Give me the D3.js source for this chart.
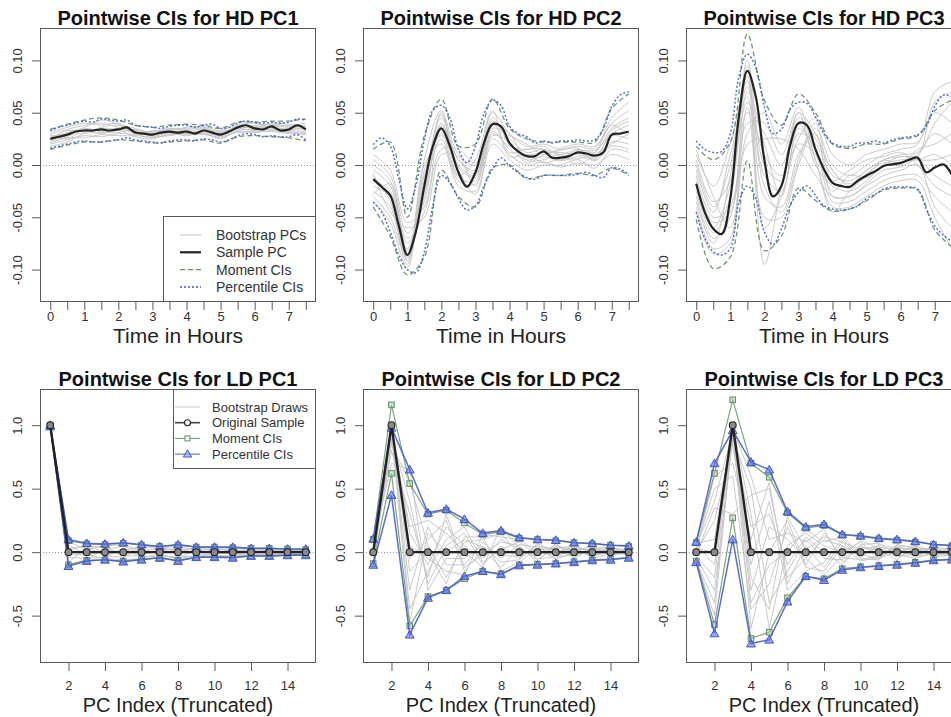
<!DOCTYPE html>
<html>
<head>
<meta charset="utf-8">
<script src="https://cdn.jsdelivr.net/npm/d3@7"></script>
<style>
  body { margin: 0; background: #fff; }
  svg { font-family: "Liberation Sans", Arial, sans-serif; display: block; }
  .tick text { fill: #333; }
</style>
</head>
<body>
<div id="viz"></div>
<script>
// ---- time grids / index grid ----
var hdTime = [0,0.25,0.5,0.75,1,1.25,1.5,1.75,2,2.25,2.5,2.75,3,3.25,3.5,3.75,4,4.25,4.5,4.75,5,5.25,5.5,5.75,6,6.25,6.5,6.75,7,7.25,7.5];
var hdTimeCoarse = [0,0.5,1,1.5,2,2.5,3,3.5,4,4.5,5,5.5,6,6.5,7,7.5];
var ldIndex = [1,2,3,4,5,6,7,8,9,10,11,12,13,14,15];

var hdTicks = [0,0.5,1,1.5,2,2.5,3,3.5,4,4.5,5,5.5,6,6.5,7,7.5];
var hdYTicks = [-0.10,-0.05,0,0.05,0.10];
var ldTicks = [2,4,6,8,10,12,14];
var ldYTicks = [-0.5,0,0.5,1.0];

// ---- HD PC1 ----
var hd1Sample = [0.025,0.027,0.029,0.032,0.033,0.033,0.034,0.033,0.034,0.036,0.031,0.030,0.029,0.031,0.032,0.031,0.032,0.030,0.033,0.031,0.029,0.032,0.036,0.038,0.035,0.034,0.037,0.033,0.034,0.038,0.034];
var hd1PctUp = [0.033,0.036,0.038,0.040,0.042,0.041,0.044,0.043,0.042,0.043,0.038,0.037,0.036,0.035,0.037,0.038,0.038,0.036,0.038,0.039,0.035,0.036,0.040,0.042,0.041,0.040,0.041,0.040,0.041,0.044,0.043];
var hd1PctLo = [0.016,0.018,0.020,0.022,0.023,0.022,0.022,0.023,0.024,0.026,0.024,0.023,0.022,0.021,0.023,0.024,0.024,0.023,0.025,0.024,0.022,0.024,0.028,0.030,0.029,0.027,0.028,0.027,0.027,0.029,0.024];
var hd1MomUp = [0.034,0.039,0.043,0.045,0.043,0.038,0.036,0.038,0.039,0.038,0.035,0.041,0.041,0.042,0.042,0.044];
var hd1MomLo = [0.015,0.019,0.022,0.022,0.024,0.023,0.021,0.022,0.023,0.024,0.021,0.027,0.028,0.027,0.026,0.023];
var hd1Boot = [
  [0.030,0.034,0.038,0.040,0.036,0.033,0.032,0.034,0.035,0.036,0.031,0.037,0.038,0.039,0.038,0.040],
  [0.020,0.024,0.028,0.027,0.030,0.029,0.026,0.029,0.030,0.030,0.026,0.032,0.031,0.033,0.031,0.029],
  [0.027,0.031,0.036,0.043,0.039,0.035,0.030,0.031,0.034,0.035,0.030,0.038,0.040,0.036,0.035,0.036],
  [0.018,0.022,0.030,0.031,0.033,0.027,0.025,0.030,0.028,0.031,0.025,0.033,0.034,0.034,0.032,0.030],
  [0.028,0.029,0.031,0.036,0.038,0.031,0.031,0.035,0.033,0.034,0.032,0.035,0.033,0.038,0.036,0.038],
  [0.023,0.027,0.035,0.032,0.031,0.034,0.028,0.028,0.031,0.032,0.028,0.034,0.037,0.035,0.033,0.032],
  [0.032,0.036,0.040,0.038,0.040,0.030,0.033,0.033,0.036,0.037,0.033,0.039,0.036,0.040,0.039,0.037],
  [0.021,0.026,0.026,0.029,0.028,0.028,0.027,0.031,0.029,0.029,0.027,0.031,0.032,0.032,0.030,0.031],
  [0.025,0.033,0.032,0.035,0.034,0.032,0.030,0.033,0.030,0.033,0.030,0.036,0.035,0.036,0.034,0.035],
  [0.029,0.025,0.034,0.030,0.035,0.030,0.029,0.032,0.032,0.030,0.029,0.035,0.036,0.037,0.037,0.033]
];

// ---- HD PC2 ----
var hd2Sample = [-0.0135,-0.021,-0.029,-0.058,-0.086,-0.064,-0.020,0.018,0.035,0.018,-0.007,-0.021,-0.007,0.021,0.039,0.037,0.021,0.013,0.0085,0.0085,0.013,0.007,0.007,0.0085,0.012,0.011,0.009,0.012,0.029,0.030,0.032];
var hd2PctUp = [0.0195,0.026,0.018,-0.0135,-0.042,-0.020,0.024,0.0525,0.057,0.045,0.015,0.002,0.018,0.049,0.062,0.057,0.037,0.030,0.027,0.021,0.023,0.021,0.023,0.023,0.024,0.023,0.024,0.034,0.056,0.067,0.070];
var hd2PctLo = [-0.0355,-0.045,-0.064,-0.086,-0.100,-0.103,-0.083,-0.039,-0.010,-0.017,-0.032,-0.043,-0.039,-0.020,-0.004,0.007,-0.001,-0.007,-0.012,-0.0135,-0.010,-0.0097,-0.010,-0.010,-0.0088,-0.007,-0.010,-0.012,-0.0025,-0.004,-0.009];
var hd2MomUp = [0.015,0.022,-0.050,0.028,0.063,0.018,0.020,0.063,0.035,0.025,0.022,0.022,0.022,0.022,0.054,0.068];
var hd2MomLo = [-0.040,-0.068,-0.105,-0.088,-0.005,-0.030,-0.040,-0.003,0.000,-0.013,-0.010,-0.010,-0.008,-0.010,-0.003,-0.010];
var hd2Boot = [
  [-0.005,-0.020,-0.075,-0.030,0.040,0.000,-0.010,0.042,0.025,0.012,0.015,0.010,0.015,0.012,0.035,0.045],
  [-0.025,-0.040,-0.095,-0.010,0.030,-0.012,-0.015,0.032,0.015,0.005,0.008,0.004,0.008,0.005,0.022,0.020],
  [0.005,-0.010,-0.065,-0.035,0.050,0.010,0.000,0.050,0.030,0.018,0.020,0.015,0.018,0.016,0.045,0.060],
  [-0.030,-0.050,-0.090,0.000,0.020,-0.020,-0.025,0.025,0.010,0.000,0.003,-0.002,0.002,0.000,0.010,0.005],
  [-0.015,-0.025,-0.080,-0.015,0.045,0.005,-0.005,0.045,0.020,0.010,0.012,0.012,0.010,0.008,0.030,0.038],
  [-0.010,-0.035,-0.088,-0.025,0.025,-0.015,-0.018,0.030,0.018,0.015,0.018,0.008,0.014,0.014,0.028,0.025],
  [0.010,-0.005,-0.055,-0.040,0.038,0.005,-0.008,0.035,0.028,0.020,0.010,0.016,0.020,0.018,0.040,0.052],
  [-0.035,-0.055,-0.098,-0.005,0.028,-0.005,-0.028,0.020,0.005,-0.005,0.000,0.000,0.005,-0.003,0.015,0.012],
  [-0.020,-0.030,-0.070,-0.045,0.015,0.015,0.002,0.038,0.030,0.005,0.005,0.010,0.000,0.010,0.020,0.030],
  [0.000,-0.015,-0.082,-0.020,0.048,-0.002,-0.012,0.040,0.012,0.015,0.015,0.005,0.012,0.006,0.033,0.042],
  [-0.008,-0.045,-0.060,-0.050,0.010,0.008,-0.020,0.028,0.022,0.002,0.010,0.014,0.016,0.004,0.018,0.015],
  [-0.028,-0.018,-0.092,0.005,0.052,-0.010,0.005,0.052,0.008,0.010,0.002,0.006,0.006,0.012,0.038,0.028]
];

// ---- HD PC3 ----
var hd3Sample = [-0.018,-0.045,-0.061,-0.066,-0.032,0.046,0.090,0.065,0.005,-0.030,-0.020,0.018,0.040,0.038,0.015,-0.004,-0.017,-0.020,-0.021,-0.015,-0.010,-0.006,-0.001,0.0006,0.002,0.005,0.007,-0.007,-0.0025,0.0006,-0.009];
var hd3PctUp = [0.023,0.015,0.012,0.013,0.030,0.084,0.106,0.093,0.056,0.030,0.034,0.053,0.060,0.059,0.046,0.030,0.021,0.018,0.018,0.021,0.021,0.023,0.021,0.024,0.026,0.027,0.029,0.037,0.056,0.067,0.065];
var hd3PctLo = [-0.045,-0.070,-0.083,-0.086,-0.080,-0.036,-0.020,-0.032,-0.064,-0.076,-0.061,-0.039,-0.026,-0.020,-0.029,-0.039,-0.042,-0.043,-0.042,-0.039,-0.032,-0.028,-0.023,-0.021,-0.021,-0.021,-0.023,-0.042,-0.058,-0.067,-0.073];
var hd3MomUp = [0.018,0.005,0.022,0.125,0.062,0.038,0.068,0.050,0.020,0.016,0.020,0.020,0.025,0.028,0.052,0.062];
var hd3MomLo = [-0.052,-0.099,-0.088,0.004,-0.082,-0.068,-0.022,-0.034,-0.044,-0.042,-0.034,-0.024,-0.022,-0.024,-0.062,-0.078];
var hd3Boot = [
  [-0.030,-0.070,-0.050,0.070,0.020,-0.030,0.030,0.020,-0.010,-0.015,-0.005,0.005,0.008,0.010,0.040,0.060],
  [0.000,-0.040,0.000,0.095,-0.030,-0.040,0.010,0.030,-0.030,-0.030,-0.020,-0.010,-0.005,0.000,-0.040,-0.060],
  [-0.040,-0.080,-0.070,0.040,0.040,0.010,0.050,0.000,-0.020,-0.025,-0.015,0.000,0.005,0.005,0.010,0.000],
  [0.010,-0.020,0.020,0.080,-0.050,-0.050,0.000,0.035,0.000,-0.010,0.000,0.010,0.015,0.020,0.070,0.080],
  [-0.020,-0.060,-0.020,0.060,0.010,-0.010,0.020,0.010,-0.035,-0.035,-0.025,-0.015,-0.010,-0.010,-0.030,-0.045],
  [-0.010,-0.050,-0.040,0.050,0.030,0.000,0.045,0.025,-0.005,-0.020,-0.008,0.002,0.000,0.015,0.020,0.030],
  [-0.035,-0.075,-0.010,0.075,-0.020,-0.045,0.005,0.040,-0.015,-0.005,0.005,0.008,0.012,0.000,-0.020,-0.030],
  [0.015,-0.030,-0.060,0.030,0.050,0.020,0.055,0.005,-0.040,-0.040,-0.030,-0.020,-0.015,-0.015,-0.050,-0.080],
  [-0.025,-0.065,-0.030,0.085,-0.010,-0.025,0.035,0.015,-0.025,-0.010,-0.012,0.000,0.008,0.005,0.005,0.010],
  [-0.005,-0.045,0.010,0.065,-0.060,-0.030,0.025,0.045,0.010,0.000,0.010,0.015,0.020,0.022,0.050,0.040],
  [-0.045,-0.085,-0.075,0.020,0.025,0.025,0.015,-0.010,-0.030,-0.030,-0.018,-0.005,-0.002,0.005,-0.010,-0.020],
  [0.005,-0.035,-0.015,0.100,0.000,-0.015,0.050,0.030,-0.005,-0.018,-0.005,0.005,0.010,0.012,0.030,0.020],
  [-0.015,-0.055,-0.045,0.055,-0.095,-0.020,0.040,0.005,-0.045,-0.025,-0.010,0.004,0.002,0.008,0.060,0.070]
];

// ---- LD PC1 ----
var ld1Sample = [1,0,0,0,0,0,0,0,0,0,0,0,0,0,0];
var ld1PctUp = [1.0,0.10,0.07,0.065,0.075,0.06,0.045,0.06,0.04,0.04,0.04,0.03,0.03,0.025,0.025];
var ld1PctLo = [0.99,-0.11,-0.07,-0.06,-0.075,-0.06,-0.045,-0.07,-0.04,-0.04,-0.045,-0.03,-0.03,-0.025,-0.025];
var ld1MomUp = [1.0,0.09,0.065,0.06,0.07,0.055,0.045,0.055,0.04,0.04,0.035,0.03,0.03,0.025,0.02];
var ld1MomLo = [0.99,-0.10,-0.065,-0.06,-0.07,-0.055,-0.045,-0.065,-0.04,-0.035,-0.04,-0.03,-0.03,-0.025,-0.02];
var ld1Boot = [
  [0.995,0.06,-0.03,0.02,0.05,-0.02,0.01,0.03,-0.01,0.02,-0.02,0.01,0.00,0.01,-0.01],
  [0.990,-0.08,0.04,-0.03,-0.04,0.03,-0.02,-0.05,0.02,-0.01,0.02,-0.01,0.01,-0.01,0.01],
  [0.998,0.03,0.05,0.04,-0.02,0.04,0.03,0.02,0.03,0.02,0.03,0.02,0.01,0.015,0.01],
  [0.992,-0.04,-0.05,-0.04,0.03,-0.04,-0.03,-0.04,-0.03,-0.03,-0.03,-0.02,-0.02,-0.01,-0.015],
  [0.996,0.08,0.02,0.05,0.06,0.01,0.03,0.05,0.01,0.03,0.01,0.02,0.02,0.02,0.01],
  [0.994,-0.02,-0.02,-0.05,-0.06,-0.05,-0.01,-0.06,-0.02,-0.02,-0.04,-0.01,-0.025,-0.02,-0.02],
  [0.997,0.01,0.06,-0.01,0.01,0.05,0.04,0.00,0.04,0.035,0.00,0.025,0.015,0.00,0.02],
  [0.991,-0.10,-0.06,0.03,-0.03,-0.03,-0.04,-0.03,-0.04,-0.01,-0.01,-0.03,-0.01,-0.02,-0.005]
];

// ---- LD PC2 ----
var ld2Sample = [0,1,0,0,0,0,0,0,0,0,0,0,0,0,0];
var ld2PctUp = [0.105,0.98,0.65,0.31,0.34,0.26,0.15,0.17,0.115,0.10,0.095,0.075,0.07,0.055,0.05];
var ld2PctLo = [-0.10,0.45,-0.65,-0.36,-0.30,-0.19,-0.15,-0.175,-0.105,-0.10,-0.09,-0.08,-0.065,-0.06,-0.045];
var ld2MomUp = [0.10,1.16,0.54,0.30,0.33,0.23,0.14,0.16,0.11,0.10,0.09,0.075,0.065,0.055,0.045];
var ld2MomLo = [-0.09,0.62,-0.58,-0.35,-0.30,-0.21,-0.15,-0.17,-0.10,-0.095,-0.09,-0.075,-0.06,-0.055,-0.04];
var ld2Boot = [
  [0.05,0.98,0.15,-0.10,0.20,0.05,-0.05,0.10,0.02,-0.03,0.04,0.01,-0.02,0.01,0.00],
  [-0.04,0.95,-0.30,0.20,-0.10,-0.10,0.08,-0.05,0.06,0.04,-0.03,0.03,0.02,-0.02,0.01],
  [0.08,0.90,0.40,-0.25,0.05,0.15,-0.10,0.05,-0.05,0.05,0.02,-0.04,0.03,0.02,-0.01],
  [-0.07,0.99,-0.05,0.10,0.25,-0.15,0.02,-0.12,0.04,-0.06,0.05,0.02,-0.03,0.00,0.02],
  [0.02,0.85,0.55,0.05,-0.20,0.08,0.10,0.15,-0.02,0.02,-0.05,0.05,0.00,0.03,0.01],
  [0.00,0.97,-0.45,-0.15,0.10,0.20,-0.08,0.02,0.08,-0.02,0.06,-0.03,0.04,-0.02,-0.01],
  [0.06,0.70,0.65,-0.30,-0.05,-0.05,0.05,-0.08,-0.06,0.07,0.00,0.04,-0.04,0.03,0.02],
  [-0.05,0.93,0.20,0.25,0.15,0.00,-0.12,0.20,0.03,-0.05,-0.04,-0.02,0.02,0.01,-0.02],
  [0.03,0.99,-0.15,0.00,-0.25,0.12,0.12,-0.15,-0.08,0.03,0.03,0.05,-0.05,-0.01,0.00],
  [-0.02,0.80,0.30,-0.20,0.30,-0.12,-0.02,0.08,0.05,-0.08,0.07,-0.05,0.03,0.04,-0.03],
  [0.07,0.96,-0.55,0.15,0.00,0.10,0.04,-0.02,-0.04,0.06,-0.06,0.00,0.05,-0.03,0.03],
  [-0.08,0.88,0.05,-0.05,-0.15,-0.18,0.14,0.12,0.10,0.00,-0.02,0.06,-0.01,0.02,-0.01]
];

// ---- LD PC3 ----
var ld3Sample = [0,0,1,0,0,0,0,0,0,0,0,0,0,0,0];
var ld3PctUp = [0.08,0.70,0.96,0.71,0.65,0.32,0.20,0.22,0.14,0.13,0.11,0.10,0.085,0.06,0.055];
var ld3PctLo = [-0.08,-0.64,0.10,-0.72,-0.69,-0.39,-0.19,-0.22,-0.14,-0.12,-0.11,-0.10,-0.085,-0.065,-0.06];
var ld3MomUp = [0.075,0.62,1.20,0.70,0.59,0.31,0.19,0.21,0.135,0.125,0.105,0.095,0.08,0.06,0.05];
var ld3MomLo = [-0.07,-0.57,0.27,-0.68,-0.63,-0.36,-0.19,-0.21,-0.13,-0.115,-0.105,-0.095,-0.08,-0.06,-0.055];
var ld3Boot = [
  [0.05,0.40,0.95,-0.30,0.20,0.10,-0.05,0.10,0.05,-0.03,0.04,0.02,-0.02,0.01,0.02],
  [-0.04,-0.30,0.90,0.50,-0.40,-0.15,0.10,-0.05,-0.06,0.05,-0.02,0.03,0.03,-0.02,0.00],
  [0.02,0.60,0.70,0.10,0.55,-0.25,0.05,-0.12,0.08,0.02,0.05,-0.04,0.02,0.03,-0.02],
  [-0.06,-0.50,0.98,-0.60,0.00,0.25,-0.10,0.15,-0.04,-0.06,-0.03,0.05,-0.03,-0.02,0.01],
  [0.07,0.10,0.99,0.30,-0.60,0.05,0.15,0.05,0.00,0.08,-0.05,0.00,0.04,0.02,0.03],
  [0.00,0.25,0.85,-0.10,0.40,-0.30,-0.15,-0.08,0.10,-0.04,0.06,0.03,-0.04,0.04,-0.03],
  [-0.03,-0.20,0.97,0.60,0.10,0.15,0.08,0.18,-0.08,0.04,0.02,-0.06,0.05,-0.01,0.02],
  [0.04,0.50,0.60,-0.45,-0.25,0.20,-0.12,-0.15,0.05,-0.07,-0.04,0.04,0.01,0.03,-0.02],
  [-0.07,-0.40,0.92,0.20,0.30,-0.10,0.12,0.00,-0.10,0.06,0.07,-0.02,-0.05,0.00,0.01],
  [0.03,0.00,0.99,-0.20,-0.45,0.28,0.02,0.12,0.08,-0.05,-0.06,0.06,0.03,-0.03,-0.01],
  [-0.02,0.35,0.30,0.45,0.50,-0.20,-0.05,-0.18,-0.03,0.09,0.03,-0.03,-0.02,0.04,0.02],
  [0.06,-0.10,0.96,-0.40,-0.10,0.00,0.18,0.08,0.12,-0.02,-0.05,0.05,0.04,-0.04,-0.02]
];

// ---- layout ----
var width = 951, height = 717;
var colLeft = [40, 363, 686];
var pw = 276;
var colors = {
  boot: "#c3c3c3", sample: "#222", mom: "#5f8f5f", pct: "#3f55c8",
  box: "#5a5a5a", text: "#222"
};

var svg = d3.select("#viz").append("svg")
  .attr("width", width).attr("height", height);

function zip(xs, ys) {
  return xs.map(function(x, i) { return [x, ys[i]]; });
}

function drawPanel(p, idx) {
  var g = svg.append("g").attr("transform", "translate(" + p.left + "," + p.top + ")");
  var x = d3.scaleLinear().domain(p.xDomain).range([0, pw]);
  var y = d3.scaleLinear().domain(p.yDomain).range([p.h, 0]);

  g.append("clipPath").attr("id", "clip" + idx)
    .append("rect").attr("width", pw).attr("height", p.h);
  var plot = g.append("g").attr("clip-path", "url(#clip" + idx + ")");

  var line = d3.line()
    .x(function(d) { return x(d[0]); })
    .y(function(d) { return y(d[1]); })
    .curve(p.smooth ? d3.curveCatmullRom : d3.curveLinear);

  // bootstrap draws
  plot.selectAll(".boot").data(p.boot).enter().append("path")
    .attr("d", function(b) { return line(zip(p.bootX, b)); })
    .attr("fill", "none").attr("stroke", colors.boot).attr("stroke-width", 1)
    .attr("opacity", 0.9);

  // zero reference
  plot.append("line")
    .attr("x1", 0).attr("x2", pw)
    .attr("y1", Math.round(y(0)) + 0.5).attr("y2", Math.round(y(0)) + 0.5)
    .attr("stroke", "#999").attr("stroke-width", 1).attr("stroke-dasharray", "1,2");

  // moment CIs
  [p.momUp, p.momLo].forEach(function(s) {
    plot.append("path").attr("d", line(zip(p.momX, s)))
      .attr("fill", "none").attr("stroke", colors.mom)
      .attr("stroke-width", p.smooth ? 1.3 : 1.2)
      .attr("stroke-dasharray", p.smooth ? "5,3" : null)
      .attr("opacity", p.smooth ? 0.9 : 0.8);
    if (!p.smooth) {
      plot.selectAll(null).data(zip(p.momX, s)).enter().append("rect")
        .attr("x", function(d) { return x(d[0]) - 2.8; })
        .attr("y", function(d) { return y(d[1]) - 2.8; })
        .attr("width", 5.6).attr("height", 5.6)
        .attr("fill", "rgba(170,200,170,0.5)").attr("stroke", colors.mom).attr("stroke-width", 1);
    }
  });

  // percentile CIs
  [p.pctUp, p.pctLo].forEach(function(s) {
    plot.append("path").attr("d", line(zip(p.xs, s)))
      .attr("fill", "none").attr("stroke", colors.pct)
      .attr("stroke-width", 1.5)
      .attr("stroke-dasharray", p.smooth ? "2,2" : null)
      .attr("opacity", 0.85);
    if (!p.smooth) {
      plot.selectAll(null).data(zip(p.xs, s)).enter().append("path")
        .attr("transform", function(d) { return "translate(" + x(d[0]) + "," + (y(d[1]) + 0.8) + ")"; })
        .attr("d", d3.symbol().type(d3.symbolTriangle).size(34))
        .attr("fill", "rgba(95,115,225,0.6)").attr("stroke", colors.pct).attr("stroke-width", 1);
    }
  });

  // sample
  plot.append("path").attr("d", line(zip(p.xs, p.sample)))
    .attr("fill", "none").attr("stroke", colors.sample)
    .attr("stroke-width", p.smooth ? 2.2 : 2.4);
  if (!p.smooth) {
    plot.selectAll(null).data(zip(p.xs, p.sample)).enter().append("circle")
      .attr("cx", function(d) { return x(d[0]); })
      .attr("cy", function(d) { return y(d[1]); })
      .attr("r", 3.4)
      .attr("fill", "#8a8a8a").attr("stroke", "#222").attr("stroke-width", 1.1);
  }

  // box
  g.append("rect").attr("x", 0.5).attr("y", 0.5).attr("width", pw - 1).attr("height", p.h - 1)
    .attr("fill", "none").attr("stroke", colors.box).attr("stroke-width", 1);

  // x axis
  var xAxis = g.append("g").attr("transform", "translate(0," + p.h + ")")
    .call(d3.axisBottom(x).tickValues(p.xTicks).tickSize(8).tickPadding(p.xPad)
      .tickFormat(function(d) { return Number.isInteger(d) ? d : ""; }));
  xAxis.select(".domain").remove();
  xAxis.selectAll(".tick line").attr("stroke", colors.box);
  xAxis.selectAll(".tick text").attr("font-size", 13).attr("dy", "0.72em");

  // y axis
  var yAxis = g.append("g")
    .call(d3.axisLeft(y).tickValues(p.yTicks).tickSize(8)
      .tickFormat(function(d) { return d.toFixed(p.yDigits); }));
  yAxis.select(".domain").remove();
  yAxis.selectAll(".tick line").attr("stroke", colors.box);
  yAxis.selectAll(".tick text")
    .attr("x", 0).attr("dy", null).attr("text-anchor", "middle").attr("font-size", 13)
    .attr("transform", "translate(-18.5,0) rotate(-90)");

  // title + x label
  g.append("text").attr("x", pw / 2).attr("y", p.titleY)
    .attr("text-anchor", "middle").attr("font-size", 20).attr("font-weight", "bold")
    .attr("fill", "#111").text(p.title);
  g.append("text").attr("x", pw / 2).attr("y", p.labelY)
    .attr("text-anchor", "middle").attr("font-size", p.labelSize).attr("fill", colors.text)
    .text(p.xLabel);

  return g;
}

var hdBase = {
  top: 28, h: 274, xDomain: [-0.3, 7.8], yDomain: [-0.131, 0.131], smooth: true,
  xs: hdTime, bootX: hdTimeCoarse, momX: hdTimeCoarse,
  xTicks: hdTicks, yTicks: hdYTicks, yDigits: 2, xPad: 2,
  titleY: -3, labelY: 315, labelSize: 21, xLabel: "Time in Hours"
};
var ldBase = {
  top: 389, h: 274, xDomain: [0.44, 15.56], yDomain: [-0.873, 1.285], smooth: false,
  xs: ldIndex, bootX: ldIndex, momX: ldIndex,
  xTicks: ldTicks, yTicks: ldYTicks, yDigits: 1, xPad: 9.5,
  titleY: -3, labelY: 323, labelSize: 20, xLabel: "PC Index (Truncated)"
};

var panels = [
  Object.assign({}, hdBase, { left: colLeft[0], title: "Pointwise CIs for HD PC1", sample: hd1Sample, pctUp: hd1PctUp, pctLo: hd1PctLo, momUp: hd1MomUp, momLo: hd1MomLo, boot: hd1Boot }),
  Object.assign({}, hdBase, { left: colLeft[1], title: "Pointwise CIs for HD PC2", sample: hd2Sample, pctUp: hd2PctUp, pctLo: hd2PctLo, momUp: hd2MomUp, momLo: hd2MomLo, boot: hd2Boot }),
  Object.assign({}, hdBase, { left: colLeft[2], title: "Pointwise CIs for HD PC3", sample: hd3Sample, pctUp: hd3PctUp, pctLo: hd3PctLo, momUp: hd3MomUp, momLo: hd3MomLo, boot: hd3Boot }),
  Object.assign({}, ldBase, { left: colLeft[0], title: "Pointwise CIs for LD PC1", sample: ld1Sample, pctUp: ld1PctUp, pctLo: ld1PctLo, momUp: ld1MomUp, momLo: ld1MomLo, boot: ld1Boot }),
  Object.assign({}, ldBase, { left: colLeft[1], title: "Pointwise CIs for LD PC2", sample: ld2Sample, pctUp: ld2PctUp, pctLo: ld2PctLo, momUp: ld2MomUp, momLo: ld2MomLo, boot: ld2Boot }),
  Object.assign({}, ldBase, { left: colLeft[2], title: "Pointwise CIs for LD PC3", sample: ld3Sample, pctUp: ld3PctUp, pctLo: ld3PctLo, momUp: ld3MomUp, momLo: ld3MomLo, boot: ld3Boot })
];

var groups = panels.map(drawPanel);

// ---- legend, HD PC1 (bottom right) ----
var hdLegend = [
  { label: "Bootstrap PCs", stroke: colors.boot, w: 1, dash: null },
  { label: "Sample PC", stroke: colors.sample, w: 2.2, dash: null },
  { label: "Moment CIs", stroke: colors.mom, w: 1.3, dash: "5,3" },
  { label: "Percentile CIs", stroke: colors.pct, w: 1.5, dash: "2,2" }
];
var lg1 = groups[0].append("g").attr("transform", "translate(123,188)");
lg1.append("rect").attr("x", 0.5).attr("y", 0.5).attr("width", 152).attr("height", 85)
  .attr("fill", "#fff").attr("stroke", colors.box);
hdLegend.forEach(function(e, i) {
  var yy = 19 + i * 17.3;
  lg1.append("line").attr("x1", 17).attr("x2", 38).attr("y1", yy).attr("y2", yy)
    .attr("stroke", e.stroke).attr("stroke-width", e.w).attr("stroke-dasharray", e.dash);
  lg1.append("text").attr("x", 53).attr("y", yy).attr("dy", "0.35em")
    .attr("font-size", 14).attr("fill", "#333").text(e.label);
});

// ---- legend, LD PC1 (top right) ----
var ldLegend = [
  { label: "Bootstrap Draws", stroke: colors.boot, w: 1, sym: null },
  { label: "Original Sample", stroke: colors.sample, w: 1.6, sym: "circle" },
  { label: "Moment CIs", stroke: colors.mom, w: 1.1, sym: "square" },
  { label: "Percentile CIs", stroke: colors.pct, w: 1.1, sym: "triangle" }
];
var lg2 = groups[3].append("g").attr("transform", "translate(133,0)");
lg2.append("rect").attr("x", 0.5).attr("y", 0.5).attr("width", 142).attr("height", 79)
  .attr("fill", "#fff").attr("stroke", colors.box);
ldLegend.forEach(function(e, i) {
  var yy = 18 + i * 15.7;
  lg2.append("line").attr("x1", 2).attr("x2", 27).attr("y1", yy).attr("y2", yy)
    .attr("stroke", e.stroke).attr("stroke-width", e.w).attr("opacity", 0.85);
  if (e.sym === "circle") {
    lg2.append("circle").attr("cx", 14.5).attr("cy", yy).attr("r", 3)
      .attr("fill", "#fff").attr("stroke", "#222").attr("stroke-width", 1.1);
  } else if (e.sym === "square") {
    lg2.append("rect").attr("x", 12).attr("y", yy - 2.5).attr("width", 5).attr("height", 5)
      .attr("fill", "#fff").attr("stroke", colors.mom);
  } else if (e.sym === "triangle") {
    lg2.append("path").attr("transform", "translate(14.5," + (yy + 0.5) + ")")
      .attr("d", d3.symbol().type(d3.symbolTriangle).size(30))
      .attr("fill", "rgba(140,155,235,0.6)").attr("stroke", colors.pct);
  }
  lg2.append("text").attr("x", 39).attr("y", yy).attr("dy", "0.35em")
    .attr("font-size", 13).attr("fill", "#333").text(e.label);
});
</script>
</body>
</html>
